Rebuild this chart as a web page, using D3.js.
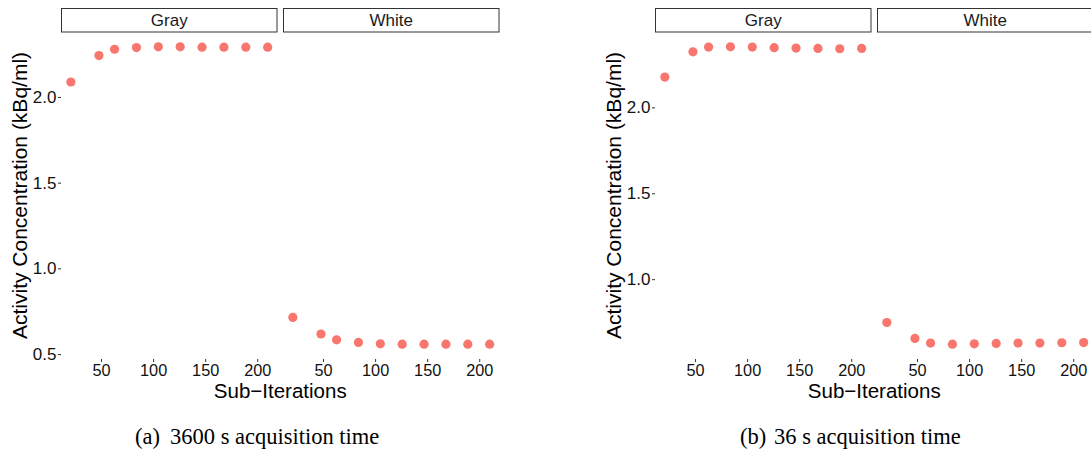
<!DOCTYPE html>
<html><head><meta charset="utf-8">
<script src="https://cdn.jsdelivr.net/npm/d3@7"></script>
<style>
body{margin:0;background:#fff;}
svg{display:block;}
text{font-family:"Liberation Sans",Arial,Helvetica,sans-serif;}
.cap{font-family:"Liberation Serif","Times New Roman",serif;}
</style></head>
<body>
<svg id="c" width="1091" height="451"></svg>
<script>
// ---- data ----
const iterations = [21, 48, 63, 84, 105, 126, 147, 168, 189, 210];
const tissues = ["Gray", "White"];
const gray3600 = [2.087, 2.241, 2.278, 2.288, 2.292, 2.292, 2.290, 2.290, 2.290, 2.290];
const white3600 = [0.714, 0.617, 0.583, 0.568, 0.560, 0.558, 0.558, 0.558, 0.558, 0.558];
const gray36 = [2.176, 2.323, 2.351, 2.352, 2.351, 2.347, 2.345, 2.343, 2.341, 2.343];
const white36 = [0.748, 0.655, 0.628, 0.622, 0.624, 0.626, 0.628, 0.628, 0.630, 0.631];
const xTicks = [50, 100, 150, 200];
const yTicks3600 = [0.5, 1.0, 1.5, 2.0];
const yTicks36 = [1.0, 1.5, 2.0];
const captionLabels = ["(a)", "(b)"];
const captionTexts = ["3600 s acquisition time", "36 s acquisition time"];
const yTitle = "Activity Concentration (kBq/ml)";
const xTitle = "Sub\u2212Iterations";

// ---- layout ----
const svg = d3.select("#c");
const panelW = 216.5, gap = 5.5, panelTop = 32, panelBottom = 359;
const charts = [
  {x0: 61, series: [gray3600, white3600], yTicks: yTicks3600, capLabelX: 135, capTextX: 170},
  {x0: 655, series: [gray36, white36], yTicks: yTicks36, capLabelX: 740, capTextX: 774}
];
const color = "#F8766D";

function expand(ext) { const d = ext[1] - ext[0]; return [ext[0] - 0.05 * d, ext[1] + 0.05 * d]; }

const x = d3.scaleLinear().domain(expand(d3.extent(iterations))).range([0, panelW]);

charts.forEach((ch, ci) => {
  const all = ch.series.flat();
  const y = d3.scaleLinear().domain(expand(d3.extent(all))).range([panelBottom, panelTop]);
  const g = svg.append("g");

  // y axis
  const ya = g.append("g").attr("transform", `translate(${ch.x0},0)`)
    .call(d3.axisLeft(y).tickValues(ch.yTicks).tickFormat(d3.format(".1f")).tickSize(3).tickPadding(1.5));
  ya.select(".domain").remove();
  ya.selectAll(".tick line").attr("stroke", "#333");
  ya.selectAll(".tick text").attr("font-size", 17).attr("fill", "#111")
    .attr("font-family", "'Liberation Sans',Arial,sans-serif");

  tissues.forEach((t, ti) => {
    const px = ch.x0 + ti * (panelW + gap);
    const pg = g.append("g").attr("transform", `translate(${px},0)`);
    // strip
    pg.append("rect").attr("x", 0.5).attr("y", 8.5).attr("width", panelW - 1).attr("height", 23.5)
      .attr("fill", "#fff").attr("stroke", "#333").attr("stroke-width", 1);
    pg.append("text").attr("x", panelW / 2).attr("y", 26).attr("text-anchor", "middle")
      .attr("font-size", 17).attr("fill", "#1a1a1a").text(t);
    // x axis
    const xa = pg.append("g").attr("transform", `translate(0,${panelBottom})`)
      .call(d3.axisBottom(x).tickValues(xTicks).tickFormat(d3.format("d")).tickSize(3).tickPadding(2));
    xa.select(".domain").remove();
    xa.selectAll(".tick line").attr("stroke", "#333");
    xa.selectAll(".tick text").attr("font-size", 16.3).attr("fill", "#111")
      .attr("font-family", "'Liberation Sans',Arial,sans-serif");
    // points
    pg.selectAll("circle").data(iterations.map((it, i) => [it, ch.series[ti][i]]))
      .enter().append("circle")
      .attr("cx", d => x(d[0])).attr("cy", d => y(d[1])).attr("r", 4.6).attr("fill", color);
  });

  // axis titles
  const midX = ch.x0 + (2 * panelW + gap) / 2;
  g.append("text").attr("x", midX).attr("y", 397.5).attr("text-anchor", "middle")
    .attr("font-size", 20.5).attr("fill", "#000").text(xTitle);
  g.append("text").attr("transform", `translate(${ch.x0 - 34},${(panelTop + panelBottom) / 2}) rotate(-90)`)
    .attr("text-anchor", "middle").attr("font-size", 21).attr("fill", "#000").text(yTitle);

  // caption
  g.append("text").attr("class", "cap").attr("x", ch.capLabelX).attr("y", 444)
    .attr("font-size", 22.5).attr("fill", "#000").text(captionLabels[ci]);
  g.append("text").attr("class", "cap").attr("x", ch.capTextX).attr("y", 444)
    .attr("font-size", 22.5).attr("fill", "#000").text(captionTexts[ci]);
});
</script>
</body></html>
